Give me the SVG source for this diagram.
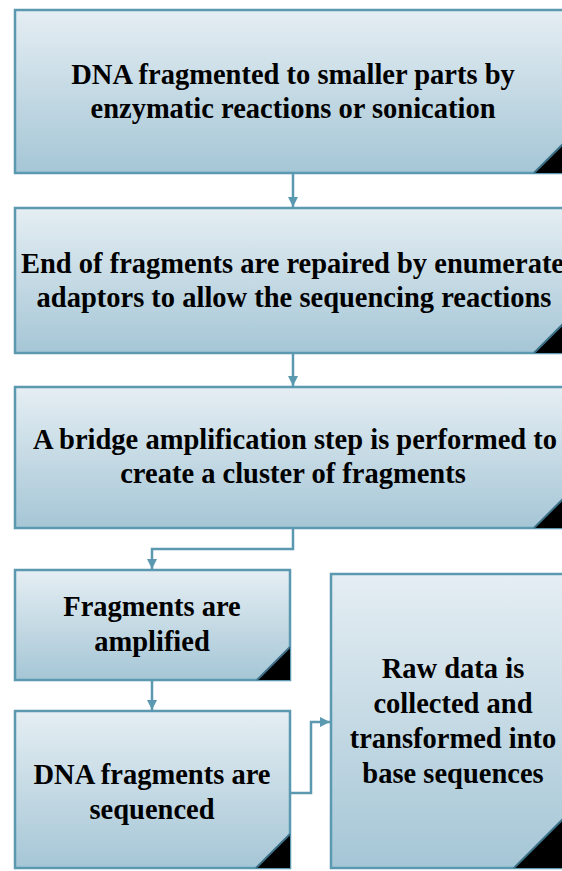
<svg xmlns="http://www.w3.org/2000/svg" width="562" height="871" viewBox="0 0 562 871">
<style>
.box{stroke:#5b99b0;stroke-width:2.5;fill:url(#bg)}
.t{font-weight:bold;font-size:28.5px;fill:#000;text-anchor:middle}
.ts{text-anchor:start}
.c{fill:none;stroke:#5b99b0;stroke-width:2.5}
.tri{fill:#000}
.edge{fill:none;stroke:#3c6f86;stroke-width:2}
</style>
<defs>
<linearGradient id="bg" x1="0" y1="0" x2="0" y2="1">
<stop offset="0" stop-color="#e5eef3"/>
<stop offset="1" stop-color="#a5c6d6"/>
</linearGradient>
<marker id="ah" viewBox="0 0 10 10" refX="10" refY="5" markerWidth="4.2" markerHeight="4.2" orient="auto" markerUnits="strokeWidth">
<path d="M0,0 L10,5 L0,10 z" fill="#5b99b0"/>
</marker>
</defs>
<rect width="562" height="871" fill="#fff"/>
<g font-family="'Liberation Serif', 'Times New Roman', Times, serif">
<g id="n1">
<rect class="box" x="15" y="10" width="557" height="163"/>
<polygon class="tri" points="534,173 572,135 572,173"/>
<line class="edge" x1="534" y1="173" x2="572" y2="135"/>
<text class="t" x="293" y="84">DNA fragmented to smaller parts by</text>
<text class="t" x="293" y="118">enzymatic reactions or sonication</text>
</g>

<g id="n2">
<rect class="box" x="15" y="208" width="557" height="145"/>
<polygon class="tri" points="534,353 572,315 572,353"/>
<line class="edge" x1="534" y1="353" x2="572" y2="315"/>
<text class="t ts" x="21" y="273">End of fragments are repaired by enumerate</text>
<text class="t" x="294" y="307">adaptors to allow the sequencing reactions</text>
</g>

<g id="n3">
<rect class="box" x="15" y="387" width="557" height="141"/>
<polygon class="tri" points="534,528 572,490 572,528"/>
<line class="edge" x1="534" y1="528" x2="572" y2="490"/>
<text class="t" x="295" y="449">A bridge amplification step is performed to</text>
<text class="t" x="293" y="483">create a cluster of fragments</text>
</g>

<g id="n4">
<rect class="box" x="15" y="570" width="275" height="110"/>
<polygon class="tri" points="257,680 290,647 290,680"/>
<line class="edge" x1="257" y1="680" x2="290" y2="647"/>
<text class="t" x="152" y="616">Fragments are</text>
<text class="t" x="152" y="651">amplified</text>
</g>

<g id="n5">
<rect class="box" x="15" y="711" width="275" height="157"/>
<polygon class="tri" points="256,868 290,834 290,868"/>
<line class="edge" x1="256" y1="868" x2="290" y2="834"/>
<text class="t" x="152" y="784">DNA fragments are</text>
<text class="t" x="152" y="819">sequenced</text>
</g>

<g id="n6">
<rect class="box" x="331" y="574" width="241" height="294"/>
<polygon class="tri" points="514,868 572,810 572,868"/>
<line class="edge" x1="514" y1="868" x2="572" y2="810"/>
<text class="t" x="453" y="678">Raw data is</text>
<text class="t" x="453" y="713">collected and</text>
<text class="t" x="453" y="748">transformed into</text>
<text class="t" x="453" y="783">base sequences</text>
</g>
</g>
<g id="connectors">
<path class="c" d="M293,174 V207" marker-end="url(#ah)"/>
<path class="c" d="M293,354 V386" marker-end="url(#ah)"/>
<path class="c" d="M293,529 V549 H152 V569" marker-end="url(#ah)"/>
<path class="c" d="M152,681 V710" marker-end="url(#ah)"/>
<path class="c" d="M291,793 H311 V722 H330" marker-end="url(#ah)"/>
</g>
</svg>
